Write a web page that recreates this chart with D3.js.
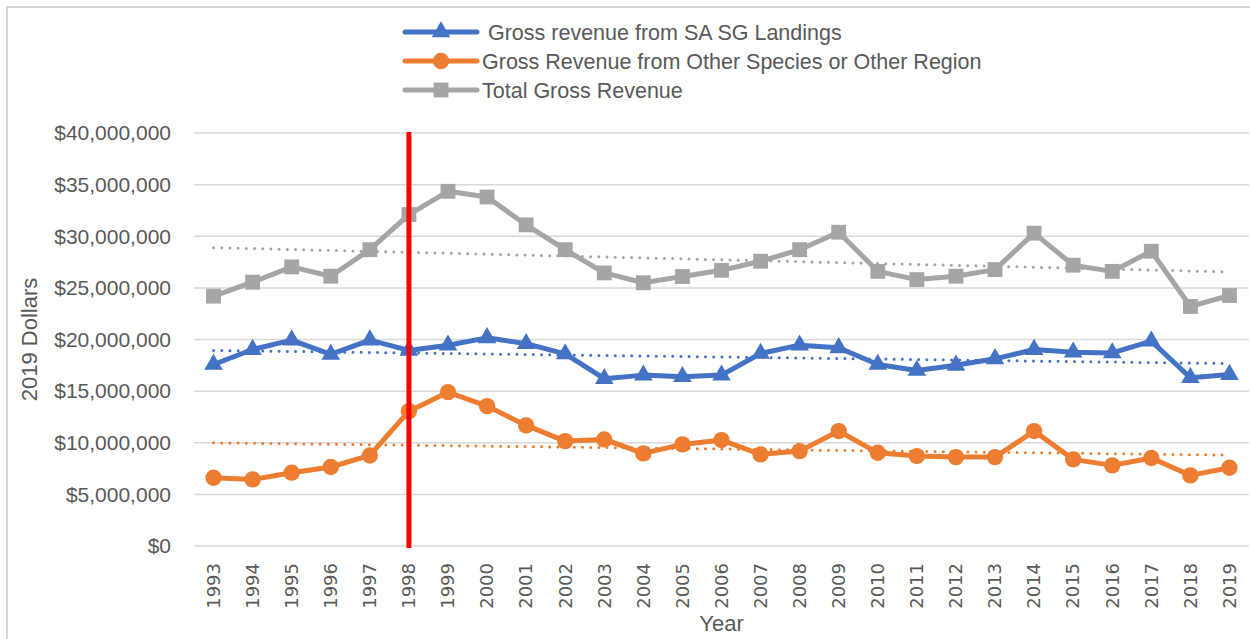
<!DOCTYPE html>
<html>
<head>
<meta charset="utf-8">
<script src="https://cdn.jsdelivr.net/npm/d3@7"></script>
<style>
  body { margin: 0; background: #fff; }
  svg { display: block; }
  text { font-family: "Liberation Sans", Arial, sans-serif; fill: #595959; }
</style>
</head>
<body>
<div id="chart"></div>
<script>
const years = [1993, 1994, 1995, 1996, 1997, 1998, 1999, 2000, 2001, 2002, 2003, 2004, 2005,
    2006, 2007, 2008, 2009, 2010, 2011, 2012, 2013, 2014, 2015, 2016, 2017, 2018, 2019];

const saSgRevenue = [17.58, 19.03, 19.94, 18.55, 19.94, 18.94, 19.45, 20.16, 19.6, 18.6, 16.2, 16.55, 16.4,
    16.55, 18.65, 19.45, 19.2, 17.58, 17.0, 17.5, 18.13, 19.03, 18.77, 18.7, 19.84, 16.3, 16.6];

const otherRevenue = [6.61, 6.45, 7.1, 7.65, 8.77, 13.06, 14.9, 13.55, 11.68, 10.16, 10.32, 8.97, 9.84,
    10.26, 8.87, 9.19, 11.13, 9.03, 8.71, 8.61, 8.61, 11.13, 8.39, 7.81, 8.52, 6.84, 7.58];

const totalRevenue = [24.2, 25.55, 27.03, 26.13, 28.7, 32.1, 34.35, 33.8, 31.1, 28.7, 26.45, 25.5, 26.1,
    26.7, 27.58, 28.7, 30.39, 26.6, 25.8, 26.13, 26.77, 30.3, 27.2, 26.6, 28.55, 23.2, 24.26];

const yTicks = [0, 5, 10, 15, 20, 25, 30, 35, 40];
const markerYear = 1998;

const seriesNames = [' Gross revenue from SA SG Landings', 'Gross Revenue from Other Species or Other Region', 'Total Gross Revenue'];

const width = 1250, height = 639;
const plot = { left: 194, right: 1249, top: 133, bottom: 546 };

const svg = d3.select('#chart').append('svg')
    .attr('width', width)
    .attr('height', height);

// chart border
svg.append('path')
    .attr('d', `M7,${height} V7 H${width}`)
    .attr('fill', 'none')
    .attr('stroke', '#d9d9d9')
    .attr('stroke-width', 2);

const x = d3.scalePoint().domain(years).range([plot.left, plot.right]).padding(0.5);
const y = d3.scaleLinear().domain([0, 40]).range([plot.bottom, plot.top]);

// gridlines
svg.append('g')
    .selectAll('line')
    .data(yTicks)
    .join('line')
    .attr('x1', plot.left)
    .attr('x2', plot.right)
    .attr('y1', d => y(d))
    .attr('y2', d => y(d))
    .attr('stroke', '#d9d9d9')
    .attr('stroke-width', 1.5);

// y tick labels
const fmt = d3.format('$,');
svg.append('g')
    .selectAll('text')
    .data(yTicks)
    .join('text')
    .attr('x', 171)
    .attr('y', d => y(d))
    .attr('dy', '0.35em')
    .attr('text-anchor', 'end')
    .style('font-size', '21px')
    .text(d => fmt(d * 1e6));

// x tick labels
svg.append('g')
    .selectAll('text')
    .data(years)
    .join('text')
    .attr('transform', d => `translate(${x(d)},563) rotate(-90)`)
    .attr('dy', '0.35em')
    .attr('text-anchor', 'end')
    .style('font-family', '"DejaVu Sans", sans-serif')
    .style('font-size', '18px')
    .text(d => d);

// axis titles
svg.append('text')
    .attr('x', (plot.left + plot.right) / 2)
    .attr('y', 631)
    .attr('text-anchor', 'middle')
    .style('font-size', '22px')
    .text('Year');

svg.append('text')
    .attr('transform', `translate(37,${(plot.top + plot.bottom) / 2}) rotate(-90)`)
    .attr('text-anchor', 'middle')
    .style('font-size', '22px')
    .text('2019 Dollars');

const series = [
    { name: seriesNames[0], values: saSgRevenue, color: '#4472c4', marker: d3.symbolTriangle, size: 150 },
    { name: seriesNames[1], values: otherRevenue, color: '#ed7d31', marker: d3.symbolCircle, size: 210 },
    { name: seriesNames[2], values: totalRevenue, color: '#a5a5a5', marker: d3.symbolSquare, size: 220 }
];

// linear trend lines (least squares on the data)
function trend(values) {
    const xs = years.map((d, i) => i);
    const mx = d3.mean(xs), my = d3.mean(values);
    const slope = d3.sum(xs, (v, i) => (v - mx) * (values[i] - my)) / d3.sum(xs, v => (v - mx) ** 2);
    const b = my - slope * mx;
    return [[years[0], b], [years[years.length - 1], b + slope * (years.length - 1)]];
}

svg.append('g')
    .selectAll('line')
    .data(series)
    .join('line')
    .attr('x1', d => x(trend(d.values)[0][0]))
    .attr('y1', d => y(trend(d.values)[0][1]))
    .attr('x2', d => x(trend(d.values)[1][0]))
    .attr('y2', d => y(trend(d.values)[1][1]))
    .attr('stroke', d => d.color)
    .attr('stroke-width', 3)
    .attr('stroke-linecap', 'round')
    .attr('stroke-dasharray', '0,8.2');

const line = d3.line()
    .x((d, i) => x(years[i]))
    .y(d => y(d));

series.forEach(s => {
    const g = svg.append('g');
    g.append('path')
        .attr('d', line(s.values))
        .attr('fill', 'none')
        .attr('stroke', s.color)
        .attr('stroke-width', 5)
        .attr('stroke-linejoin', 'round');
    g.selectAll('path.mk')
        .data(s.values)
        .join('path')
        .attr('class', 'mk')
        .attr('transform', (d, i) => `translate(${x(years[i])},${y(d)})`)
        .attr('d', d3.symbol().type(s.marker).size(s.size))
        .attr('fill', s.color);
});

// 1998 marker line
svg.append('line')
    .attr('x1', x(markerYear))
    .attr('x2', x(markerYear))
    .attr('y1', plot.top - 1)
    .attr('y2', plot.bottom + 2)
    .attr('stroke', '#ff0000')
    .attr('stroke-width', 5);

// legend
const legendRows = [32, 61, 90];
const legend = svg.append('g');
series.forEach((s, i) => {
    const ly = legendRows[i];
    legend.append('line')
        .attr('x1', 405).attr('x2', 477)
        .attr('y1', ly).attr('y2', ly)
        .attr('stroke', s.color)
        .attr('stroke-width', 5)
        .attr('stroke-linecap', 'round');
    legend.append('path')
        .attr('transform', `translate(441,${ly})`)
        .attr('d', d3.symbol().type(s.marker).size(s.size))
        .attr('fill', s.color);
    legend.append('text')
        .attr('x', 482)
        .attr('y', ly)
        .attr('dy', '0.35em')
        .attr('xml:space', 'preserve')
        .style('white-space', 'pre')
        .style('font-size', '21.5px')
        .text(s.name);
});
</script>
</body>
</html>
